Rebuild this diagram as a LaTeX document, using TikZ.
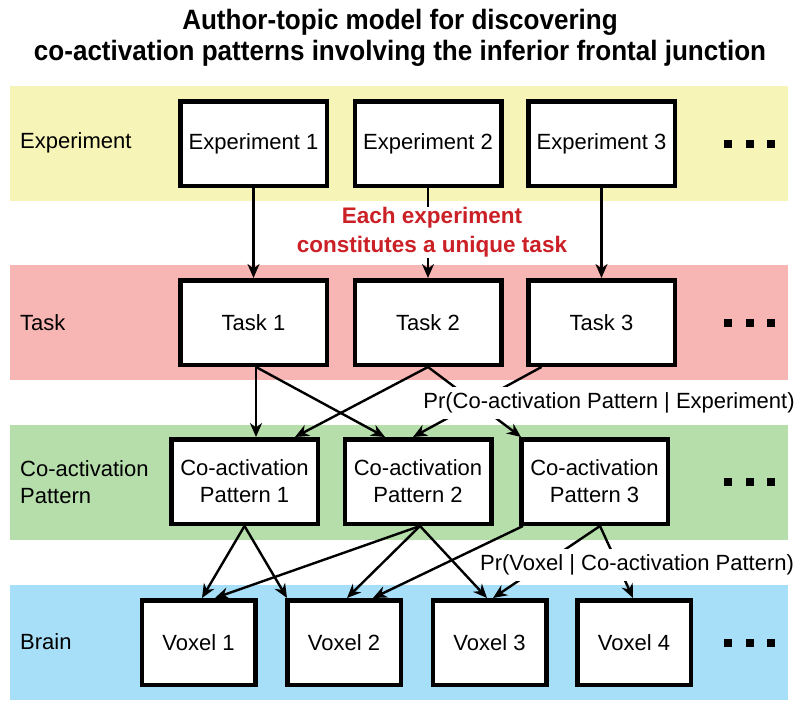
\documentclass[tikz,border=0pt]{standalone}
\usepackage{fontspec}
\setmainfont{Liberation Sans}
\usetikzlibrary{arrows.meta,calc}
\definecolor{ybg}{RGB}{246,244,182}
\definecolor{pbg}{RGB}{247,181,179}
\definecolor{gbg}{RGB}{181,222,171}
\definecolor{bbg}{RGB}{168,223,248}
\definecolor{notered}{RGB}{204,32,39}
\begin{document}
\begin{tikzpicture}[x=1pt,y=-1pt,
  box/.style={draw=black, line width=4.5pt, fill=white, minimum width=146.5pt, minimum height=84.5pt, inner sep=0pt, align=center, font=\fontsize{22}{27}\selectfont},
  vox/.style={box, minimum width=113.5pt},
  rowlab/.style={anchor=west, align=left, inner sep=0pt, font=\fontsize{22}{27}\selectfont},
  arr/.style={line width=2.4pt, -{Stealth[length=14pt,width=12pt]}},
  dotsq/.style={fill=black, minimum size=8pt, inner sep=0pt},
  prlab/.style={fill=white, inner xsep=2pt, inner ysep=6pt, font=\fontsize{22}{27}\selectfont},
]
\useasboundingbox (0,0) rectangle (800,712);
% bands
\fill[ybg] (10,86) rectangle (788,201);
\fill[pbg] (10,265) rectangle (788,380);
\fill[gbg] (10,425) rectangle (788,540);
\fill[bbg] (10,585) rectangle (788,700);
% title
\node[font=\bfseries\fontsize{28}{31}\selectfont\addfontfeature{FakeStretch=0.93}, align=center] (title) at (400,38)
  {Author-topic model for discovering\\co-activation patterns involving the inferior frontal junction};
% row labels
\node[rowlab] (lE) at (20,143) {Experiment};
\node[rowlab] (lT) at (20,323) {Task};
\node[rowlab] (lC) at (20,482) {Co-activation\\Pattern};
\node[rowlab] (lB) at (20,642) {Brain};
% boxes
\node[box] (e1) at (253.5,143.5) {Experiment 1};
\node[box] (e2) at (428,143.5) {Experiment 2};
\node[box] (e3) at (601.5,143.5) {Experiment 3};
\node[box] (t1) at (253.5,322.5) {Task 1};
\node[box] (t2) at (428,322.5) {Task 2};
\node[box] (t3) at (601.5,322.5) {Task 3};
\node[box] (c1) at (244.5,481.5) {Co-activation\\Pattern 1};
\node[box] (c2) at (418,481.5) {Co-activation\\Pattern 2};
\node[box] (c3) at (594.5,481.5) {Co-activation\\Pattern 3};
\node[vox] (v1) at (198.5,642.5) {Voxel 1};
\node[vox] (v2) at (344,642.5) {Voxel 2};
\node[vox] (v3) at (489.5,642.5) {Voxel 3};
\node[vox] (v4) at (634,642.5) {Voxel 4};
% dots
\foreach \yy/\r in {143.5/a,322.5/b,481.5/c,642.5/d}{
  \node[dotsq] (d1\r) at (728,\yy) {};
  \node[dotsq] (d2\r) at (749.5,\yy) {};
  \node[dotsq] (d3\r) at (771,\yy) {};
}
% experiment -> task
\draw[arr] (e1) -- (t1);
\draw[arr] (e2) -- (t2);
\draw[arr] (e3) -- (t3);
% task -> co-activation
\draw[arr] ([xshift=2.5pt]t1.south) -- ([xshift=11.5pt]c1.north);
\draw[arr] ([xshift=2.5pt]t1.south) -- ([xshift=-33pt]c2.north);
\draw[arr] (t2.south) -- ([xshift=50.5pt]c1.north);
\draw[arr] (t2.south) -- ([xshift=2pt]c3.north west);
\draw[arr] ([xshift=-60pt]t3.south) -- ([xshift=-5pt]c2.north);
% co-activation -> voxel
\draw[arr] (c1.south) -- ([xshift=3.5pt]v1.north);
\draw[arr] (c1.south) -- ([xshift=-57pt]v2.north);
\draw[arr] ([xshift=2pt]c2.south) -- ([xshift=16.5pt]v1.north);
\draw[arr] ([xshift=2pt]c2.south) -- ([xshift=3pt]v2.north);
\draw[arr] ([xshift=2pt]c2.south) -- ([xshift=-2.5pt]v3.north);
\draw[arr] ([xshift=4pt]c3.south west) -- ([xshift=29pt]v2.north);
\draw[arr] ([xshift=5.5pt]c3.south) -- ([xshift=3.5pt]v3.north);
\draw[arr] ([xshift=5.5pt]c3.south) -- ([xshift=-1pt]v4.north);
% labels over connectors
\node[fill=white, inner xsep=3pt, inner ysep=1pt, text=notered, align=center, font=\bfseries\fontsize{22.5}{29}\selectfont] (note) at (432,232.5)
  {Each experiment\\constitutes a unique task};
\node[prlab] (p1) at (609,403) {Pr(Co-activation Pattern | Experiment)};
\node[prlab] (p2) at (637,565) {Pr(Voxel | Co-activation Pattern)};
\end{tikzpicture}
\end{document}
